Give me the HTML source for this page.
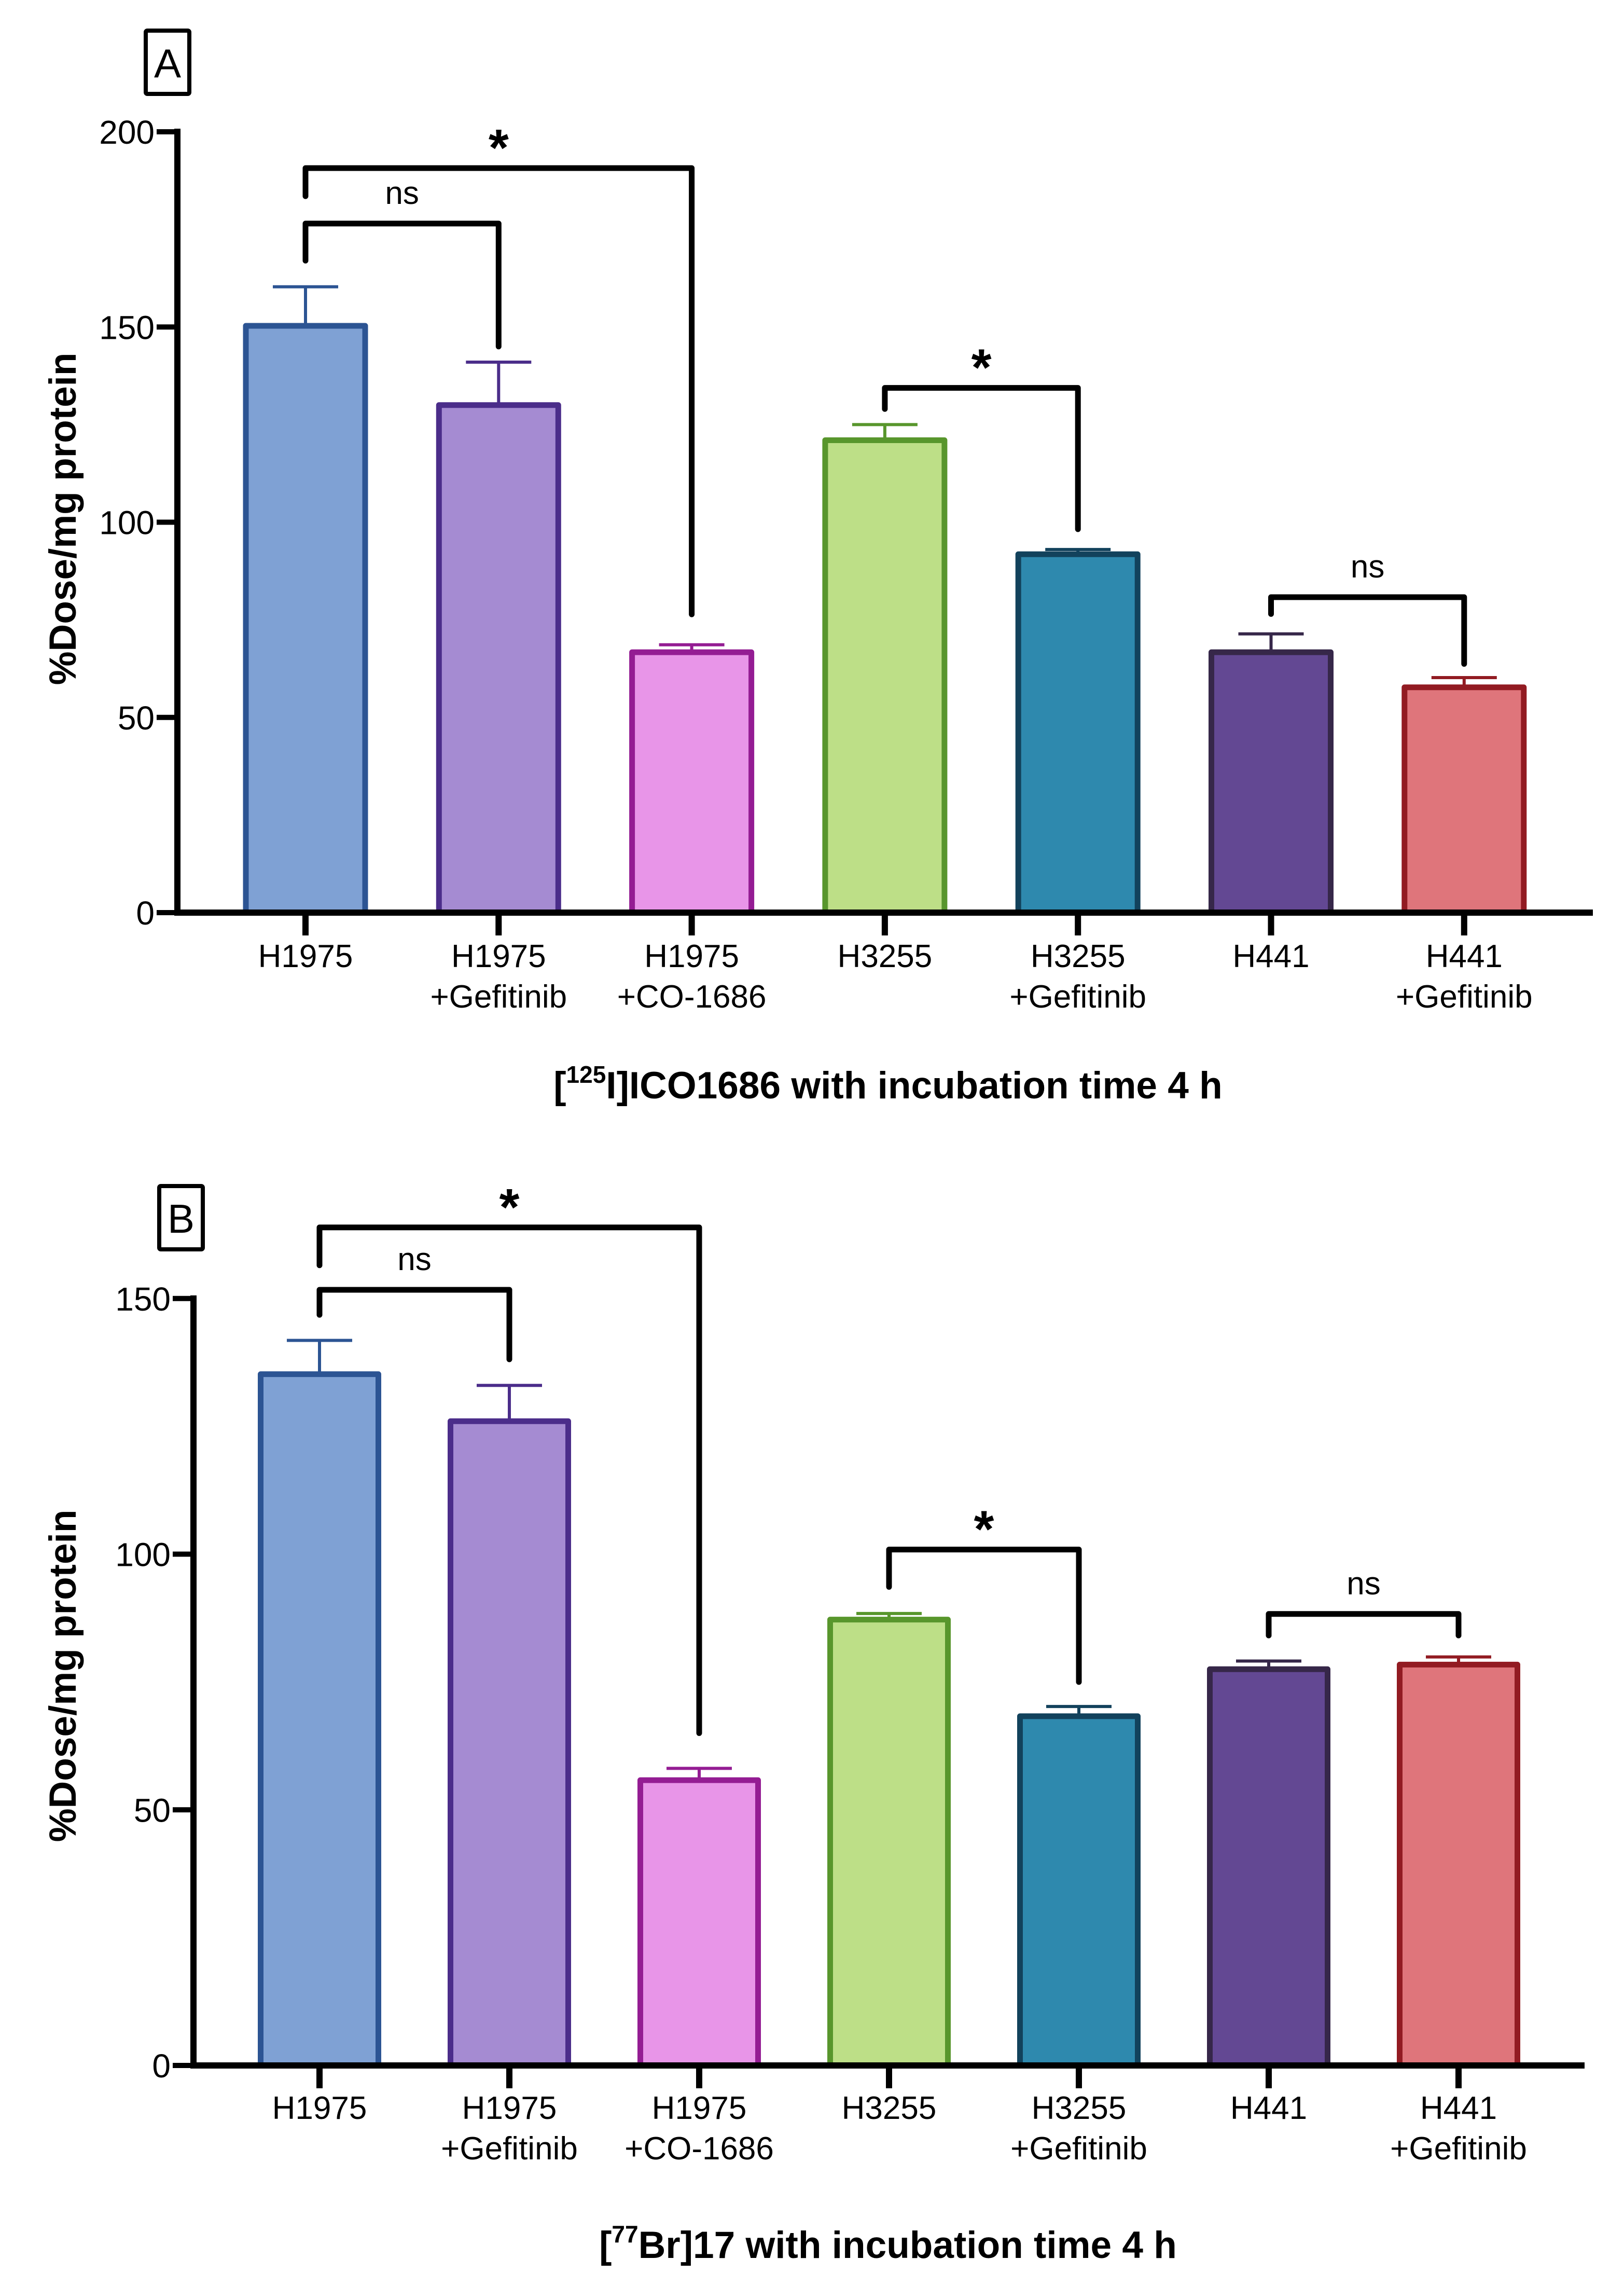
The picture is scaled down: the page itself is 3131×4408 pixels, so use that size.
<!DOCTYPE html>
<html><head><meta charset="utf-8"><style>
html,body{margin:0;padding:0;background:#fff;}
svg{display:block;font-family:"Liberation Sans",Arial,sans-serif;}
</style></head><body>
<svg id="chart" width="3131" height="4408" viewBox="0 0 3131 4408" xmlns="http://www.w3.org/2000/svg">
<rect width="3131" height="4408" fill="#fff"/>
<g id="panelA"></g>
<g id="panelB"></g>
</svg>
<script>
const categories = ["H1975|", "H1975|+Gefitinib", "H1975|+CO-1686", "H3255|", "H3255|+Gefitinib", "H441|", "H441|+Gefitinib"];
const fills = ["#7fa1d4","#a58bd2","#e895e8","#bddf87","#2e89ae","#634893","#df757b"];
const strokes = ["#2c5493","#4b2d8a","#941c93","#58962c","#12425c","#362749","#921b22"];
const valuesA = [150.3, 130, 66.7, 121, 91.8, 66.7, 57.7];
const errorsA = [160.3, 141, 68.6, 125, 93, 71.4, 60.2];
const ticksA = [0, 50, 100, 150, 200];
// brackets: [i, j, barY, leftBottom, rightBottom, label]
const bracketsA = [[0, 2, 190.7, 183.5, 76.4, "*"], [0, 1, 176.5, 167, 145, "ns"], [3, 4, 134.4, 129, 98.2, "*"], [5, 6, 80.8, 76.5, 63.7, "ns"]];
const valuesB = [135.2, 126, 55.8, 87.2, 68.3, 77.5, 78.4];
const errorsB = [141.8, 133, 58.1, 88.4, 70.2, 79.1, 79.9];
const ticksB = [0, 50, 100, 150];
const bracketsB = [[0, 2, 163.9, 156.5, 65, "*"], [0, 1, 151.7, 146.8, 138.1, "ns"], [3, 4, 100.9, 93.6, 75, "*"], [5, 6, 88.3, 84.1, 84.1, "ns"]];

const NS = "http://www.w3.org/2000/svg";
function mk(parent, tag, attrs, text) {
  const e = document.createElementNS(NS, tag);
  for (const k in attrs) e.setAttribute(k, attrs[k]);
  if (text !== undefined) e.textContent = text;
  parent.appendChild(e);
  return e;
}

function drawPanel(g, cfg) {
  const y = v => cfg.y0 - (v - 0) * cfg.ppu;
  const x = i => cfg.x0 + i * cfg.step;
  // label box
  const box = mk(g, "rect", {x: cfg.boxX, y: cfg.boxY, width: 84, height: 122, fill: "none", stroke: "#000", "stroke-width": 8, rx: 3});
  
  
  const lt = mk(g, "text", {x: cfg.boxX + 42, y: cfg.boxY + 90, "font-size": 78, "text-anchor": "middle"}, cfg.letter);
  
  
  // bars
  for (let i = 0; i < categories.length; i++) {
    const cx = x(i), v = cfg.values[i], e = cfg.errors[i];
    const eb = mk(g, "path", {d: `M${cx},${y(v)} V${y(e)} M${cx - 63},${y(e)} H${cx + 63}`, stroke: strokes[i], "stroke-width": 6, fill: "none"});
    
    
    const r = mk(g, "rect", {x: cx - cfg.bw / 2 + 5, y: y(v), width: cfg.bw - 10, height: y(0) - y(v), fill: fills[i], stroke: strokes[i], "stroke-width": 11, "stroke-linejoin": "round"});
    
    
    // tick
    const tk = mk(g, "line", {x1: cx, x2: cx, y1: y(0), y2: y(0) + 44, stroke: "#000", "stroke-width": 12});
    
    
    const parts = categories[i].split('|');
    const t1 = mk(g, "text", {x: cx, y: cfg.lab1 + 22, "font-size": 62, "text-anchor": "middle"}, parts[0]);
    
    
    if (parts[1]) {
      const t2 = mk(g, "text", {x: cx, y: cfg.lab2 + 22, "font-size": 62, "text-anchor": "middle"}, parts[1]);
      
      
    }
  }
  // axes
  const xa = mk(g, "line", {x1: cfg.axX - 6, x2: cfg.axEnd, y1: y(0), y2: y(0), stroke: "#000", "stroke-width": 12});
  
  
  const top = cfg.ticks[cfg.ticks.length - 1];
  const ya = mk(g, "line", {x1: cfg.axX, x2: cfg.axX, y1: y(top) - 6, y2: y(0) + 6, stroke: "#000", "stroke-width": 12});
  
  
  cfg.ticks.forEach(t => {
    const l = mk(g, "line", {x1: cfg.axX - 40, x2: cfg.axX, y1: y(t), y2: y(t), stroke: "#000", "stroke-width": 10});
    
    
    const tl = mk(g, "text", {x: cfg.axX - 44, y: y(t) + 23, "font-size": 64, "text-anchor": "end"}, String(t));
    
    
  });
  // y title
  const yt = mk(g, "text", {x: 0, y: 0, "font-size": 73, "font-weight": "bold", "text-anchor": "middle", transform: `translate(${cfg.ytX},${cfg.ytY}) rotate(-90)`}, "%Dose/mg protein");
  
  
  // brackets
  cfg.brackets.forEach(b => {
    const x1 = x(b[0]), x2 = x(b[1]);
    const p = mk(g, "path", {d: `M${x1},${y(b[3])} V${y(b[2])} H${x2} V${y(b[4])}`, stroke: "#000", "stroke-width": 11, fill: "none", "stroke-linecap": "round", "stroke-linejoin": "round"});
    
    
    const mid = (x1 + x2) / 2;
    let lab;
    if (b[5] === "*") {
      lab = mk(g, "text", {x: mid, y: y(b[2]) - 28 + 52, "font-size": 100, "font-weight": "bold", "text-anchor": "middle"}, "*");
      lab.setAttribute('y', y(b[2]) - 55 + 50);
    } else {
      lab = mk(g, "text", {x: mid, y: y(b[2]) - 38, "font-size": 62, "text-anchor": "middle"}, "ns");
    }
    
    
  });
  // title
  const tt = mk(g, "text", {x: 1712, y: cfg.titleY + 26, "font-size": 73, "font-weight": "bold", "text-anchor": "middle"});
  
  
  mk(tt, "tspan", {}, "[");
  mk(tt, "tspan", {"font-size": 46, dy: -30}, cfg.sup);
  mk(tt, "tspan", {dy: 30}, cfg.titleRest);
}

drawPanel(document.getElementById("panelA"), {
  letter: "A", boxX: 281, boxY: 59, y0: 1759, ppu: 7.525, x0: 589, step: 372.3, bw: 240,
  axX: 342, axEnd: 3071, ticks: ticksA, values: valuesA, errors: errorsA, brackets: bracketsA,
  lab1: 1842, lab2: 1920, ytX: 146, ytY: 1000, titleY: 2091, sup: "125", titleRest: "I]ICO1686 with incubation time 4 h"
});
drawPanel(document.getElementById("panelB"), {
  letter: "B", boxX: 307, boxY: 2286, y0: 3981, ppu: 9.855, x0: 616, step: 366, bw: 237,
  axX: 373, axEnd: 3055, ticks: ticksB, values: valuesB, errors: errorsB, brackets: bracketsB,
  lab1: 4062, lab2: 4140, ytX: 146, ytY: 3230, titleY: 4326, sup: "77", titleRest: "Br]17 with incubation time 4 h"
});
</script>
</body></html>
